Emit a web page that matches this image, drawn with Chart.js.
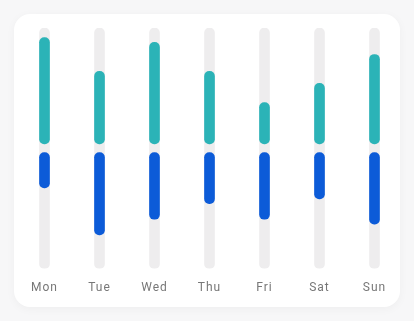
<!DOCTYPE html>
<html>
<head>
<meta charset="utf-8">
<script src="https://cdn.jsdelivr.net/npm/chart.js@4"></script>
<style>
  html, body { margin: 0; padding: 0; background: #f7f7f8; }
  .card {
    position: absolute; left: 14px; top: 14px; width: 386px; height: 293px;
    background: #fff; border-radius: 16px;
    box-shadow: 0 2px 10px rgba(0,0,0,0.04);
  }
  .wrap { position: absolute; left: 0; top: 0; width: 414px; height: 321px; }
</style>
</head>
<body>
<div class="card"></div>
<div class="wrap"><canvas id="barChart"></canvas></div>
<script>
const days = ["Mon", "Tue", "Wed", "Thu", "Fri", "Sat", "Sun"];
const upper = [92, 64, 88, 64, 38, 54, 78];
const lower = [33, 72, 59, 46, 59, 42, 63];
const track = [100, 100, 100, 100, 100, 100, 100];
const gap = 3.6; // small space around the middle line

// letter spacing for the day labels
const spacing = {
  id: 'spacing',
  beforeDraw(chart) { chart.ctx.letterSpacing = '1px'; }
};

let ctx = document.getElementById('barChart');
let chart = new Chart(ctx, {
  type: 'bar',
  data: {
    labels: days,
    datasets: [
      {
        label: 'up',
        data: upper.map(v => [gap, v]),
        backgroundColor: '#2bb3b7',
        borderRadius: 5,
        borderSkipped: false
      },
      {
        label: 'down',
        data: lower.map(v => [-gap, -v]),
        backgroundColor: '#0c5bd8',
        borderRadius: 5,
        borderSkipped: false
      },
      {
        label: 'track',
        data: track.map(v => [-v, v]),
        backgroundColor: '#eeedee',
        borderRadius: 5,
        borderSkipped: false
      }
    ]
  },
  options: {
    responsive: true,
    maintainAspectRatio: false,
    animation: false,
    grouped: false,
    barThickness: 10,
    layout: { padding: { left: 17, right: 12, top: 28, bottom: 14 } },
    plugins: { legend: { display: false }, tooltip: { enabled: false } },
    scales: {
      x: {
        grid: { display: false, drawTicks: false },
        border: { display: false },
        ticks: { color: '#777777', padding: 12, font: { family: 'Roboto', size: 12 } }
      },
      y: {
        display: false,
        min: -100,
        max: 100
      }
    }
  },
  plugins: [spacing]
});
</script>
</body>
</html>
